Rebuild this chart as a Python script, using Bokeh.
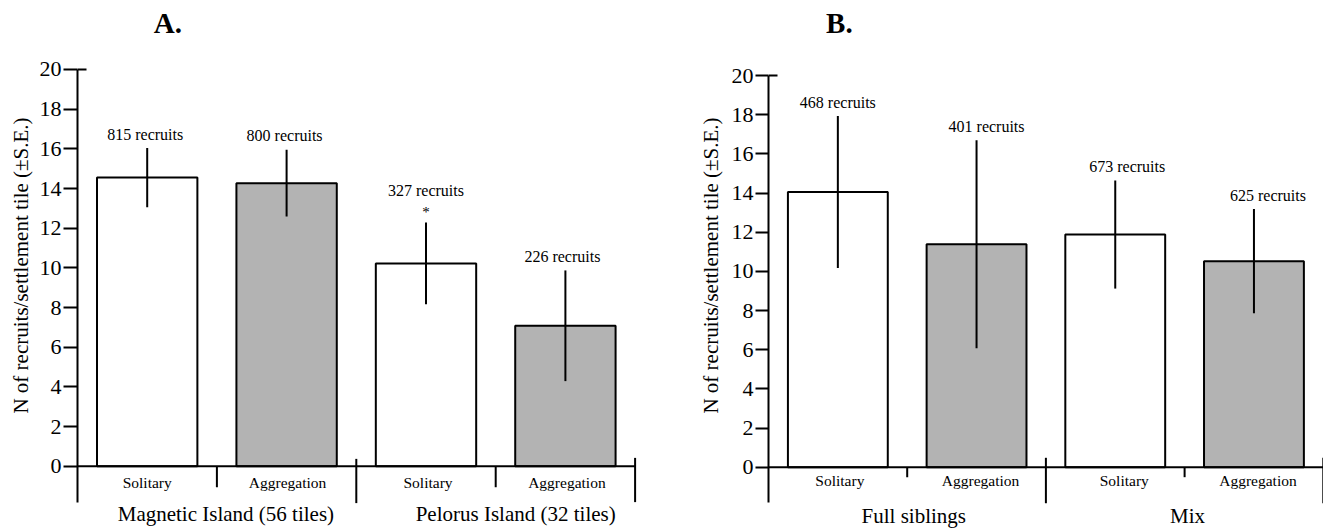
from bokeh.plotting import figure
from bokeh.models import Range1d, FixedTicker, ColumnDataSource, Title
from bokeh.layouts import row
from bokeh.embed import file_html
from bokeh.resources import INLINE
from bokeh.core.properties import value

# ---------------- data ----------------
y_ticks = [0, 2, 4, 6, 8, 10, 12, 14, 16, 18, 20]
y_label = "N of recruits/settlement tile (\u00b1S.E.)"

a_title = "A."
a_categories = ["Solitary", "Aggregation", "Solitary", "Aggregation"]
a_groups = ["Magnetic Island (56 tiles)", "Pelorus Island (32 tiles)"]
a_means = [14.55, 14.27, 10.22, 7.08]
a_se = [1.49, 1.68, 2.06, 2.79]
a_recruits = ["815 recruits", "800 recruits", "327 recruits", "226 recruits"]
a_signif = ["", "", "*", ""]

b_title = "B."
b_categories = ["Solitary", "Aggregation", "Solitary", "Aggregation"]
b_groups = ["Full siblings", "Mix"]
b_means = [14.05, 11.38, 11.88, 10.52]
b_se = [3.88, 5.31, 2.76, 2.66]
b_recruits = ["468 recruits", "401 recruits", "673 recruits", "625 recruits"]
b_signif = ["", "", "", ""]

fills = ["white", "#b3b3b3", "white", "#b3b3b3"]
FONT = "Liberation Serif"
H = 530


def make_panel(title, cats, groups, means, se, recruits, signif, cfg):
    n = len(cats)
    xs = list(range(n))
    p = figure(width=cfg["width"], height=H,
               x_range=Range1d(-0.5, cfg["xmax"]),
               y_range=Range1d(cfg["ymin"], cfg["ymax"]),
               x_axis_location=None, y_axis_location="left",
               toolbar_location=None, output_backend="svg",
               min_border_left=cfg["border_left"], min_border_right=0,
               min_border_top=0, min_border_bottom=0)
    p.outline_line_color = None
    p.grid.visible = False
    p.background_fill_color = "white"

    ax = p.yaxis[0]
    ax.ticker = FixedTicker(ticks=y_ticks)
    ax.bounds = (cfg["axis_bottom"], y_ticks[-1])
    ax.axis_line_width = 2
    ax.axis_line_color = "black"
    ax.major_tick_line_width = 2
    ax.major_tick_line_color = "black"
    ax.major_tick_out = cfg["tick_out"]
    ax.major_tick_in = 0
    ax.minor_tick_line_color = None
    ax.major_label_standoff = 2
    ax.major_label_text_font = FONT
    ax.major_label_text_font_size = "22px"
    ax.major_label_text_color = "black"

    # y axis title, placed as a vertical title on the left side
    p.add_layout(Title(text=y_label, align="center", offset=cfg["ylab_offset"],
                       standoff=cfg["ylab_standoff"],
                       text_font=FONT, text_font_size="21px",
                       text_font_style="normal", text_color="black"), "left")

    ng = len(groups)
    per = n // ng

    src = ColumnDataSource(dict(
        x=xs, top=means, lo=[m - s for m, s in zip(means, se)],
        hi=[m + s for m, s in zip(means, se)], fill=fills[:n],
        cat=cats, rec=recruits, sig=signif,
        rec_y=[m + s + 0.7 + (0.92 if g else 0) for m, s, g in zip(means, se, signif)],
        sig_y=[m + s + 0.52 for m, s in zip(means, se)],
        rec_dx=cfg["rec_dx"], cat_dx=cfg["cat_dx"],
    ))

    p.vbar(x="x", top="top", bottom=0, width=0.72, fill_color="fill",
           line_color="black", line_width=2, source=src)
    p.segment(x0="x", y0="lo", x1="x", y1="hi", line_color="black",
              line_width=2, source=src)

    # baseline, inner tick at the top of the axis, and group separators
    p.segment(x0=[-0.5], y0=[0], x1=[n - 0.5], y1=[0], line_color="black", line_width=2)
    p.segment(x0=[-0.5], y0=[y_ticks[-1]], x1=[-0.5 + cfg["tick_in_top"]],
              y1=[y_ticks[-1]], line_color="black", line_width=2)
    small_x = [g * per + k - 0.5 for g in range(ng) for k in range(1, per)]
    p.segment(x0=small_x, y0=[0] * len(small_x), x1=small_x,
              y1=[cfg["small_bottom"]] * len(small_x), line_color="black", line_width=2)
    big_x = [g * per - 0.5 for g in range(1, ng + 1)]
    p.segment(x0=big_x, y0=cfg["big_top"], x1=big_x, y1=cfg["big_bottom"],
              line_color="black", line_width=2)

    # texts
    p.text(x="x", y="rec_y", text="rec", x_offset="rec_dx", source=src,
           text_font=value(FONT), text_font_size="16px", text_color="black",
           text_align="center", text_baseline="middle")
    p.text(x="x", y="sig_y", text="sig", source=src,
           text_font=value(FONT), text_font_size="15px", text_color="black",
           text_align="center", text_baseline="middle")
    p.text(x="x", y=cfg["cat_y"], text="cat", x_offset="cat_dx", source=src,
           text_font=value(FONT), text_font_size="15.5px", text_color="black",
           text_align="center", text_baseline="middle")
    gx = [g * per + (per - 1) / 2 for g in range(ng)]
    p.text(x=gx, y=[cfg["group_y"]] * ng, text=groups, x_offset=cfg["group_dx"],
           text_font=value(FONT), text_font_size="21px", text_color="black",
           text_align="center", text_baseline="middle")
    p.text(x=[cfg["title_x"]], y=[cfg["title_y"]], text=[title],
           text_font=value(FONT), text_font_size="29px", text_font_style="bold",
           text_color="black", text_align="center", text_baseline="middle")
    return p


# panel A: 20 -> 69px, 0 -> 465.7px (19.84 px/unit); x spacing 139.4 px, axis at 77px
cfg_a = dict(width=690, border_left=77, xmax=-0.5 + 613 / 139.4,
             ymin=(465.7 - H) / 19.84, ymax=20 + 69 / 19.84,
             axis_bottom=-1.81, tick_out=14, tick_in_top=9 / 139.4,
             ylab_offset=12.5, ylab_standoff=8,
             small_bottom=-1.06, big_top=[0.37, 0.42], big_bottom=[-1.86, -1.81],
             cat_y=-0.82, cat_dx=[0, 1, 2, 1.5],
             group_y=-2.41, group_dx=[9, 20],
             rec_dx=[-2, -2, 0, -3],
             title_x=0.149, title_y=22.35)
# panel B: 20 -> 75px, 0 -> 466.7px (19.585 px/unit); x spacing 138.7 px, axis at 768px
cfg_b = dict(width=633, border_left=78, xmax=-0.5 + 555 / 138.7,
             ymin=(466.7 - H) / 19.585, ymax=20 + 75 / 19.585,
             axis_bottom=-1.82, tick_out=13, tick_in_top=9 / 138.7,
             ylab_offset=6.7, ylab_standoff=11,
             small_bottom=-0.51, big_top=[0.48, 0.48], big_bottom=[-1.84, -1.84],
             cat_y=-0.70, cat_dx=[2, 4, 9, 4],
             group_y=-2.47, group_dx=[6.6, 3],
             rec_dx=[0, 10, 12, 14],
             title_x=0.011, title_y=22.69)

pa = make_panel(a_title, a_categories, a_groups, a_means, a_se, a_recruits, a_signif, cfg_a)
pb = make_panel(b_title, b_categories, b_groups, b_means, b_se, b_recruits, b_signif, cfg_b)

layout = row(pa, pb)
open("out.html", "w").write(file_html(layout, INLINE))
